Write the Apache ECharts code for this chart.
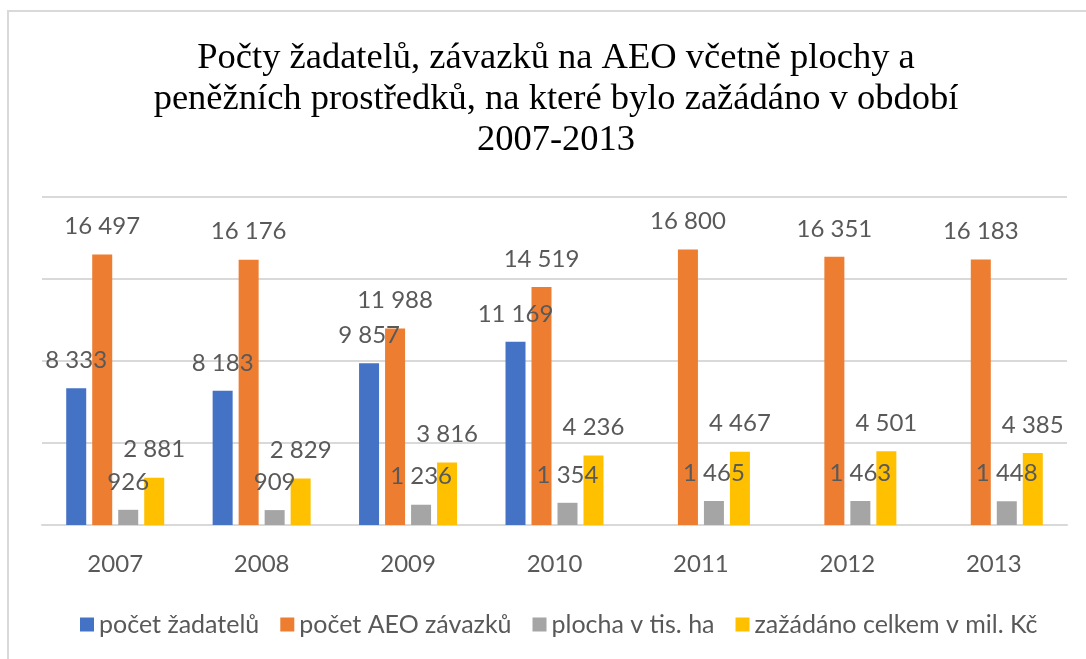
<!DOCTYPE html>
<html>
<head>
  <meta charset="UTF-8">
  <title>Počty žadatelů AEO 2007-2013</title>
  <style>
    html, body { margin: 0; padding: 0; background: #fff; }
    #main { width: 1086px; height: 659px; }
  </style>
  <script src="https://cdn.jsdelivr.net/npm/echarts@6/dist/echarts.min.js"></script>
</head>
<body>
  <div id="main"></div>
  <script>
    var years = ['2007', '2008', '2009', '2010', '2011', '2012', '2013'];
    var seriesNames = ['počet žadatelů', 'počet AEO závazků', 'plocha v tis. ha', 'zažádáno celkem v mil. Kč'];
    var zadatelu = [8333, 8183, 9857, 11169, null, null, null];
    var zavazku = [16497, 16176, 11988, 14519, 16800, 16351, 16183];
    var plocha = [926, 909, 1236, 1354, 1465, 1463, 1448];
    var zazadano = [2881, 2829, 3816, 4236, 4467, 4501, 4385];
    var colors = ['#4472c4', '#ed7d31', '#a5a5a5', '#ffc000'];

    var labelFont = 'Lato, "Noto Sans", sans-serif';

    // 16497 -> "16 497"
    function fmt(v) {
      if (v == null) return '';
      var s = String(Math.round(v));
      return s.replace(/\B(?=(\d{3})+(?!\d))/g, ' ');
    }

    var myChart = echarts.init(document.getElementById('main'));

    function makeSeries(name, data, color) {
      return {
        name: name,
        type: 'bar',
        data: data,
        barWidth: 20,
        barGap: '30%',
        itemStyle: { color: color },
        label: {
          show: true,
          position: 'top',
          distance: 16,
          color: '#595959',
          fontFamily: labelFont,
          fontSize: 24,
          formatter: function (p) { return fmt(p.value); }
        }
      };
    }

    var option = {
      animation: false,
      color: colors,
      title: {
        text: 'Počty žadatelů, závazků na AEO včetně plochy a\npeněžních prostředků, na které bylo zažádáno v období\n2007-2013',
        left: 551,
        textAlign: 'center',
        top: 33,
        textStyle: {
          fontFamily: '"Liberation Serif", "DejaVu Serif", serif',
          fontSize: 36.5,
          fontWeight: 'normal',
          color: '#000',
          lineHeight: 41
        }
      },
      legend: {
        data: seriesNames,
        left: 75,
        top: 607,
        icon: 'rect',
        itemWidth: 14,
        itemHeight: 14,
        itemGap: 21,
        textStyle: { color: '#595959', fontFamily: labelFont, fontSize: 25 }
      },
      grid: { left: 42, right: 19, top: 197, bottom: 134, containLabel: false },
      xAxis: {
        type: 'category',
        data: years,
        axisLine: { show: true, lineStyle: { color: '#d9d9d9', width: 2 } },
        axisTick: { show: false },
        axisLabel: { color: '#595959', fontFamily: labelFont, fontSize: 24, margin: 27 }
      },
      yAxis: {
        type: 'value',
        min: 0,
        max: 20000,
        interval: 5000,
        axisLabel: { show: false },
        axisLine: { show: false },
        axisTick: { show: false },
        splitLine: { lineStyle: { color: '#d9d9d9', width: 2 } }
      },
      series: [
        makeSeries(seriesNames[0], zadatelu, colors[0]),
        makeSeries(seriesNames[1], zavazku, colors[1]),
        makeSeries(seriesNames[2], plocha, colors[2]),
        makeSeries(seriesNames[3], zazadano, colors[3])
      ],
      graphic: [{
        // chart frame (right and bottom edges fall outside the picture)
        type: 'rect',
        silent: true,
        shape: { x: 8, y: 11, width: 1200, height: 800 },
        style: { fill: 'none', stroke: '#d9d9d9', lineWidth: 2 }
      }]
    };

    myChart.setOption(option);
  </script>
</body>
</html>
